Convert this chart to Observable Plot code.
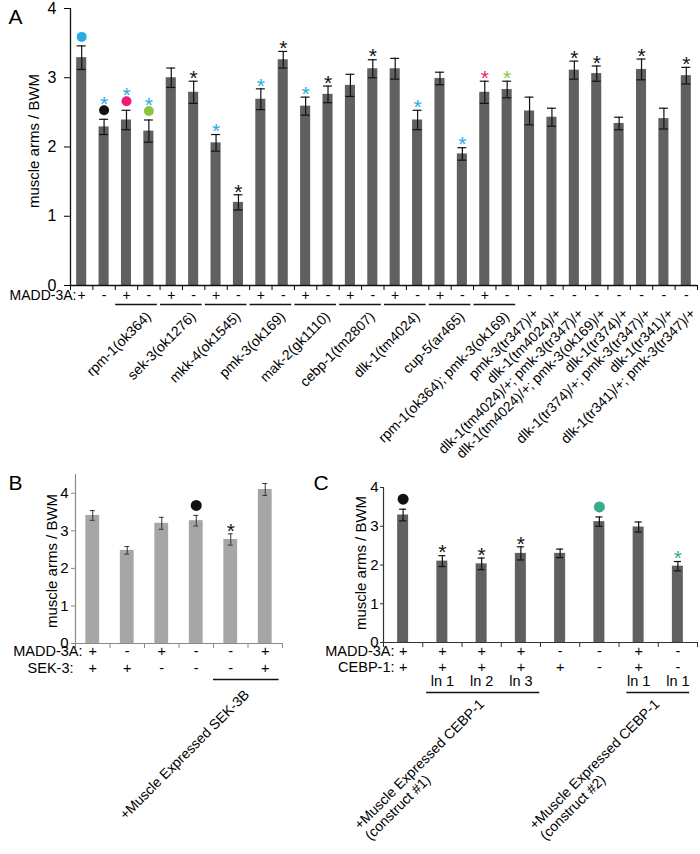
<!DOCTYPE html>
<html>
<head>
<meta charset="utf-8">
<script src="https://cdn.jsdelivr.net/npm/d3@7"></script>
<script src="https://cdn.jsdelivr.net/npm/@observablehq/plot@0.6"></script>
<style>
  html, body { margin: 0; padding: 0; background: white; }
  #root { position: relative; width: 700px; height: 854px; background: white; overflow: hidden; }
  #root svg { position: absolute; }
</style>
</head>
<body>
<div id="root"></div>
<script>
// ---------------- Panel A data ----------------
const madd3aA = ["+","-","+","-","+","-","+","-","+","-","+","-","+","-","+","-","+","-","+","-","-","-","-","-","-","-","-","-"];
const meansA = [3.29,2.29,2.39,2.23,3.00,2.79,2.06,1.20,2.69,3.26,2.59,2.76,2.89,3.13,3.13,2.39,2.99,1.90,2.79,2.83,2.52,2.43,3.11,3.06,2.34,3.12,2.41,3.03];
const semsA  = [0.17,0.11,0.14,0.16,0.14,0.16,0.12,0.11,0.15,0.12,0.13,0.12,0.16,0.13,0.15,0.14,0.09,0.09,0.16,0.12,0.20,0.13,0.13,0.11,0.09,0.15,0.15,0.12];
const starsA = [null,"blue","blue","blue",null,"black","blue","black","blue","black","blue","black",null,"black",null,"blue",null,"blue","pink","green",null,null,"black","black",null,"black",null,"black"];
const circlesA = ["blue","black","pink","green",null,null,null,null,null,null,null,null,null,null,null,null,null,null,null,null,null,null,null,null,null,null,null,null];
const pairLabelsA = ["rpm-1(ok364)","sek-3(ok1276)","mkk-4(ok1545)","pmk-3(ok169)","mak-2(gk1110)","cebp-1(tm2807)","dlk-1(tm4024)","cup-5(ar465)","rpm-1(ok364); pmk-3(ok169)"];
const singleLabelsA = ["pmk-3(tr347)/+","dlk-1(tm4024)/+","dlk-1(tm4024)/+; pmk-3(tr347)/+","dlk-1(tm4024)/+; pmk-3(ok169)/+","dlk-1(tr374)/+","dlk-1(tr374)/+; pmk-3(tr347)/+","dlk-1(tr341)/+","dlk-1(tr341)/+; pmk-3(tr347)/+"];

// ---------------- Panel B data ----------------
const madd3aB = ["+","-","+","-","-","+"];
const sek3B   = ["+","+","-","-","-","+"];
const meansB  = [3.41,2.48,3.20,3.27,2.77,4.10];
const semsB   = [0.13,0.10,0.16,0.14,0.15,0.16];
const starsB  = [null,null,null,null,"black",null];
const circlesB = [null,null,null,"black",null,null];

// ---------------- Panel C data ----------------
const madd3aC = ["+","+","+","+","-","-","+","-"];
const cebp1C  = ["+","+","+","+","+","-","+","-"];
const linesC  = ["","ln 1","ln 2","ln 3","","","ln 1","ln 1"];
const meansC  = [3.29,2.10,2.03,2.30,2.30,3.12,2.98,1.97];
const semsC   = [0.15,0.14,0.15,0.17,0.11,0.12,0.13,0.12];
const starsC  = [null,"black","black","black",null,null,null,"teal"];
const circlesC = ["black",null,null,null,null,"teal",null,null];
const constructLabelsC = ["+Muscle Expressed CEBP-1\n(construct #1)", "+Muscle Expressed CEBP-1\n(construct #2)"];

const palette = {blue: "#29abe2", black: "#111111", pink: "#ec1c7c", green: "#8cc63f", teal: "#3aab8c"};
const FONT = "'Liberation Sans', Arial, sans-serif";

const root = document.getElementById("root");
function place(svg, left, top) {
  svg.style.left = left + "px";
  svg.style.top = top + "px";
  root.appendChild(svg);
}
const baseStyle = {fontFamily: FONT, background: "transparent", overflow: "visible", color: "black"};

// ================= Panel A =================
{
  const data = meansA.map((m, k) => ({i: k + 1, mean: m, sem: semsA[k], madd: madd3aA[k], star: starsA[k], circle: circlesA[k]}));
  const pairs = pairLabelsA.map((label, k) => ({a: 3 + 2 * k, b: 4 + 2 * k, label}));
  const singles = singleLabelsA.map((label, k) => ({i: 21 + k, label}));
  const bounds = d3.range(0.5, data.length + 1, 1);
  const top = d => d.mean + d.sem;
  const svg = Plot.plot({
    width: 700, height: 480,
    marginLeft: 70, marginRight: 3, marginTop: 8, marginBottom: 195,
    style: {...baseStyle, fontSize: "14px"},
    x: {type: "linear", domain: [0.5, data.length + 0.5], axis: null},
    y: {domain: [0, 4], axis: null},
    color: {type: "identity"},
    marks: [
      Plot.rectY(data, {x1: d => d.i - 0.225, x2: d => d.i + 0.225, y1: () => 0, y2: "mean", fill: "#606060"}),
      Plot.ruleX(data, {x: "i", y1: d => d.mean - d.sem, y2: top, stroke: "#111", strokeWidth: 1.2}),
      Plot.ruleY(data, {y: top, x1: d => d.i - 0.2, x2: d => d.i + 0.2, stroke: "#111", strokeWidth: 1.2}),
      Plot.ruleY(data, {y: d => d.mean - d.sem, x1: d => d.i - 0.2, x2: d => d.i + 0.2, stroke: "#111", strokeWidth: 1.2}),
      Plot.ruleX([0.5], {y1: () => 0, y2: () => 4, stroke: "#111", strokeWidth: 1.3}),
      Plot.ruleY([0], {stroke: "#111", strokeWidth: 1.3}),
      Plot.axisY({ticks: [0, 1, 2, 3, 4], tickSize: 6, tickPadding: 8, fontSize: 16, label: null, tickFormat: d3.format("d")}),
      Plot.axisX({ticks: bounds, tickSize: 5, tickFormat: () => "", label: null}),
      Plot.text(["muscle arms / BWM"], {frameAnchor: "left", textAnchor: "middle", rotate: -90, dx: -36, dy: -6, fontSize: 15}),
      Plot.text(["A"], {frameAnchor: "top-left", textAnchor: "start", lineAnchor: "top", dx: -62, dy: 1, fontSize: 21}),
      Plot.text(data, {x: "i", text: "madd", frameAnchor: "bottom", dy: 14, fontSize: 14}),
      Plot.text(["MADD-3A:"], {frameAnchor: "bottom-left", textAnchor: "end", dx: 6, dy: 14, fontSize: 14}),
      Plot.ruleY(pairs, {x1: d => d.a - 0.48, x2: d => d.b + 0.38, y: () => 0, dy: 19, stroke: "#111", strokeWidth: 1.3}),
      Plot.text(pairs, {x: d => (d.a + d.b) / 2, text: "label", frameAnchor: "bottom", rotate: -45, textAnchor: "end", lineAnchor: "top", dx: 7, dy: 25, fontSize: 14}),
      Plot.text(singles, {x: "i", text: "label", frameAnchor: "bottom", rotate: -45, textAnchor: "end", lineAnchor: "top", dx: 3, dy: 22, fontSize: 14}),
      Plot.dot(data.filter(d => d.circle), {x: "i", y: top, r: 5, fill: d => palette[d.circle], stroke: null, dy: -9}),
      Plot.text(data.filter(d => d.star && !d.circle), {x: "i", y: top, text: () => "*", fill: d => palette[d.star], fontSize: 21, dy: -3}),
      Plot.text(data.filter(d => d.star && d.circle), {x: "i", y: top, text: () => "*", fill: d => palette[d.star], fontSize: 21, dy: -15})
    ]
  });
  place(svg, 0, 0);
}

// ================= Panel B =================
{
  const data = meansB.map((m, k) => ({i: k + 1, mean: m, sem: semsB[k], madd: madd3aB[k], sek: sek3B[k], star: starsB[k], circle: circlesB[k]}));
  const bounds = d3.range(0.5, data.length + 1, 1);
  const top = d => d.mean + d.sem;
  const axisGray = "#8a8a8a";
  const svg = Plot.plot({
    width: 340, height: 394,
    marginLeft: 75, marginRight: 58, marginTop: 14, marginBottom: 211,
    style: {...baseStyle, fontSize: "15px"},
    x: {type: "linear", domain: [0.5, data.length + 0.5], axis: null},
    y: {domain: [0, 4.5], axis: null},
    color: {type: "identity"},
    marks: [
      Plot.rectY(data, {x1: d => d.i - 0.2, x2: d => d.i + 0.2, y1: () => 0, y2: "mean", fill: "#a6a6a6"}),
      Plot.ruleX(data, {x: "i", y1: d => d.mean - d.sem, y2: top, stroke: "#333", strokeWidth: 1}),
      Plot.ruleY(data, {y: top, x1: d => d.i - 0.07, x2: d => d.i + 0.07, stroke: "#333", strokeWidth: 1}),
      Plot.ruleY(data, {y: d => d.mean - d.sem, x1: d => d.i - 0.07, x2: d => d.i + 0.07, stroke: "#333", strokeWidth: 1}),
      Plot.ruleX([0.5], {y1: () => 0, y2: () => 4.5, stroke: axisGray, strokeWidth: 1.2}),
      Plot.ruleY([0], {stroke: axisGray, strokeWidth: 1.2}),
      Plot.axisY({ticks: [0, 1, 2, 3, 4], tickSize: 4, tickPadding: 3, fontSize: 15, label: null, stroke: axisGray, fill: "black", tickFormat: d3.format("d")}),
      Plot.axisX({ticks: bounds, tickSize: 5, tickFormat: () => "", label: null, stroke: axisGray}),
      Plot.text(["muscle arms / BWM"], {frameAnchor: "left", textAnchor: "middle", rotate: -90, dx: -23, dy: 2, fontSize: 15}),
      Plot.text(["B"], {frameAnchor: "top-left", textAnchor: "start", lineAnchor: "top", dx: -67, dy: 1, fontSize: 21}),
      Plot.text(data, {x: "i", text: "madd", frameAnchor: "bottom", dy: 12, fontSize: 14.5}),
      Plot.text(data, {x: "i", text: "sek", frameAnchor: "bottom", dy: 29, fontSize: 14.5}),
      Plot.text(["MADD-3A:"], {frameAnchor: "bottom-left", textAnchor: "end", dx: 7, dy: 12, fontSize: 14.5}),
      Plot.text(["SEK-3:"], {frameAnchor: "bottom-left", textAnchor: "end", dx: -2, dy: 29, fontSize: 14.5}),
      Plot.ruleY([{x1: 4.5, x2: 6.4}], {x1: "x1", x2: "x2", y: () => 0, dy: 36, stroke: "#111", strokeWidth: 1.3}),
      Plot.text(["+Muscle Expressed SEK-3B"], {x: () => 5.5, frameAnchor: "bottom", rotate: -45, textAnchor: "end", lineAnchor: "top", dx: -5, dy: 45, fontSize: 14}),
      Plot.dot(data.filter(d => d.circle), {x: "i", y: top, r: 5.5, fill: d => palette[d.circle], stroke: null, dy: -10}),
      Plot.text(data.filter(d => d.star), {x: "i", y: top, text: () => "*", fill: d => palette[d.star], fontSize: 21, dy: -3})
    ]
  });
  place(svg, 0, 460);
}

// ================= Panel C =================
{
  const data = meansC.map((m, k) => ({i: k + 1, mean: m, sem: semsC[k], madd: madd3aC[k], cebp: cebp1C[k], line: linesC[k], star: starsC[k], circle: circlesC[k]}));
  const bounds = d3.range(0.5, data.length + 1, 1);
  const top = d => d.mean + d.sem;
  const underlines = [{x1: 1.6, x2: 4.48}, {x1: 6.7, x2: 8.3}];
  const constructs = constructLabelsC.map((label, k) => ({x: (underlines[k].x1 + underlines[k].x2) / 2, label}));
  const svg = Plot.plot({
    width: 400, height: 394,
    marginLeft: 83, marginRight: 3, marginTop: 27, marginBottom: 212,
    style: {...baseStyle, fontSize: "15px"},
    x: {type: "linear", domain: [0.5, data.length + 0.5], axis: null},
    y: {domain: [0, 4], axis: null},
    color: {type: "identity"},
    marks: [
      Plot.rectY(data, {x1: d => d.i - 0.14, x2: d => d.i + 0.14, y1: () => 0, y2: "mean", fill: "#606060"}),
      Plot.ruleX(data, {x: "i", y1: d => d.mean - d.sem, y2: top, stroke: "#111", strokeWidth: 1.2}),
      Plot.ruleY(data, {y: top, x1: d => d.i - 0.09, x2: d => d.i + 0.09, stroke: "#111", strokeWidth: 1.2}),
      Plot.ruleY(data, {y: d => d.mean - d.sem, x1: d => d.i - 0.09, x2: d => d.i + 0.09, stroke: "#111", strokeWidth: 1.2}),
      Plot.ruleX([0.5], {y1: () => 0, y2: () => 4, stroke: "#333", strokeWidth: 1.2}),
      Plot.ruleY([0], {stroke: "#333", strokeWidth: 1.2}),
      Plot.axisY({ticks: [0, 1, 2, 3, 4], tickSize: 3, tickPadding: 2, fontSize: 15, label: null, stroke: "#333", fill: "black", tickFormat: d3.format("d")}),
      Plot.axisX({ticks: bounds, tickSize: 5, tickFormat: () => "", label: null, stroke: "#333"}),
      Plot.text(["muscle arms / BWM"], {frameAnchor: "left", textAnchor: "middle", rotate: -90, dx: -22, dy: -2, fontSize: 15}),
      Plot.text(["C"], {frameAnchor: "top-left", textAnchor: "start", lineAnchor: "top", dx: -70, dy: -12, fontSize: 21}),
      Plot.text(data, {x: "i", text: "madd", frameAnchor: "bottom", dy: 13, fontSize: 14.5}),
      Plot.text(data, {x: "i", text: "cebp", frameAnchor: "bottom", dy: 29, fontSize: 14.5}),
      Plot.text(data, {x: "i", text: "line", frameAnchor: "bottom", dy: 43, fontSize: 14.5}),
      Plot.text(["MADD-3A:"], {frameAnchor: "bottom-left", textAnchor: "end", dx: 11, dy: 13, fontSize: 14.5}),
      Plot.text(["CEBP-1:"], {frameAnchor: "bottom-left", textAnchor: "end", dx: 11, dy: 29, fontSize: 14.5}),
      Plot.ruleY(underlines, {x1: "x1", x2: "x2", y: () => 0, dy: 50, stroke: "#111", strokeWidth: 1.3}),
      Plot.text(constructs, {x: "x", text: "label", frameAnchor: "bottom", rotate: -45, textAnchor: "start", lineAnchor: "top", lineHeight: 1.1, dx: -131, dy: 180, fontSize: 14}),
      Plot.dot(data.filter(d => d.circle), {x: "i", y: top, r: 5.5, fill: d => palette[d.circle], stroke: null, dy: -10}),
      Plot.text(data.filter(d => d.star), {x: "i", y: top, text: () => "*", fill: d => palette[d.star], fontSize: 21, dy: -3})
    ]
  });
  place(svg, 300, 460);
}
</script>
</body>
</html>
